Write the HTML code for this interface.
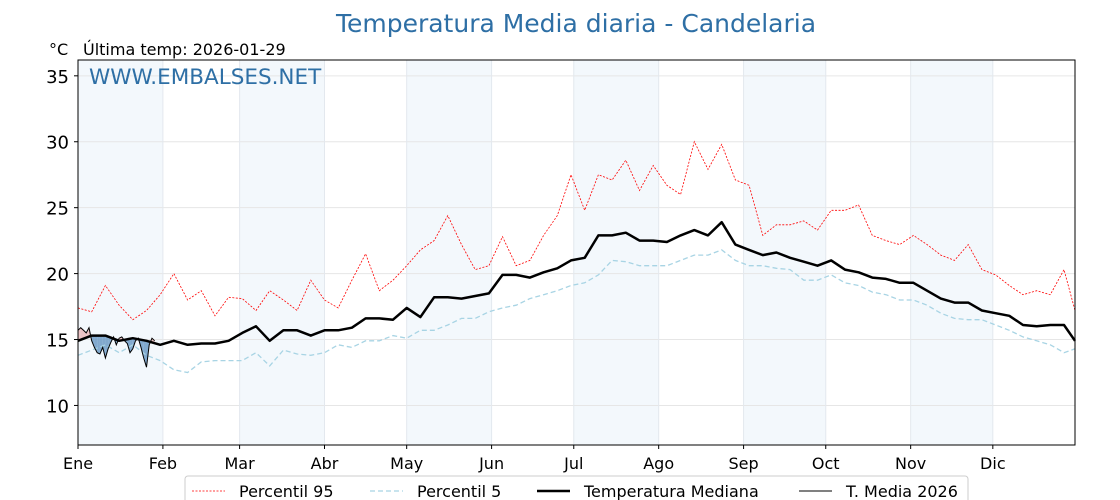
<!DOCTYPE html>
<html><head><meta charset="utf-8"><style>
body{margin:0;background:#fff;}
svg{display:block;font-family:"DejaVu Sans","Liberation Sans",sans-serif;}
</style></head><body>
<svg id="chart" width="1120" height="500" viewBox="0 0 1120 500" xmlns="http://www.w3.org/2000/svg">
<text x="576" y="32" text-anchor="middle" font-size="25" fill="#2e6fa5">Temperatura Media diaria - Candelaria</text>
<text x="49" y="55" font-size="16" fill="#000">°C</text>
<text x="83" y="55" font-size="16" fill="#000">Última temp: 2026-01-29</text>
<g id="bands"></g>
<g id="grid"></g>
<g id="series"></g>
<text x="89" y="84" font-size="21.5" fill="#2e6fa5">WWW.EMBALSES.NET</text>
<rect x="78" y="60" width="997" height="385" fill="none" stroke="#000" stroke-width="1"/>
<g id="axes"></g>
<g>
<rect x="185" y="476" width="783" height="30" rx="3" fill="#fff" stroke="#ccc"/>
<g><line x1="192" y1="491" x2="225" y2="491" stroke="red" stroke-width="0.8" stroke-dasharray="2,1.5"/><text x="239" y="497" font-size="16">Percentil 95</text></g>
<g><line x1="370" y1="491" x2="403" y2="491" stroke="#a8d4e4" stroke-width="1.3" stroke-dasharray="5,3"/><text x="417" y="497" font-size="16">Percentil 5</text></g>
<g><line x1="537" y1="491" x2="570" y2="491" stroke="#000" stroke-width="2.5"/><text x="584" y="497" font-size="16">Temperatura Mediana</text></g>
<g><line x1="799" y1="491" x2="832" y2="491" stroke="#000" stroke-width="1"/><text x="846" y="497" font-size="16">T. Media 2026</text></g>
</g>
</svg>
<script>
const sampleDays = [0,5,10,15,20,25,30,35,40,45,50,55,60,65,70,75,80,85,90,95,100,105,110,115,120,125,130,135,140,145,150,155,160,165,170,175,180,185,190,195,200,205,210,215,220,225,230,235,240,245,250,255,260,265,270,275,280,285,290,295,300,305,310,315,320,325,330,335,340,345,350,355,360,364];
const medianVals = [14.9,15.3,15.3,14.9,15.1,14.9,14.6,14.9,14.6,14.7,14.7,14.9,15.5,16.0,14.9,15.7,15.7,15.3,15.7,15.7,15.9,16.6,16.6,16.5,17.4,16.7,18.2,18.2,18.1,18.3,18.5,19.9,19.9,19.7,20.1,20.4,21.0,21.2,22.9,22.9,23.1,22.5,22.5,22.4,22.9,23.3,22.9,23.9,22.2,21.8,21.4,21.6,21.2,20.9,20.6,21.0,20.3,20.1,19.7,19.6,19.3,19.3,18.7,18.1,17.8,17.8,17.2,17.0,16.8,16.1,16.0,16.1,16.1,14.9];
const p95Vals = [17.4,17.1,19.1,17.6,16.5,17.2,18.4,20.0,18.0,18.7,16.8,18.2,18.1,17.2,18.7,18.0,17.2,19.5,18.0,17.4,19.5,21.5,18.7,19.5,20.6,21.8,22.5,24.4,22.2,20.3,20.6,22.8,20.6,21.0,22.9,24.4,27.5,24.8,27.5,27.1,28.6,26.3,28.2,26.7,26.0,30.0,27.9,29.8,27.1,26.7,22.9,23.7,23.7,24.0,23.3,24.8,24.8,25.2,22.9,22.5,22.2,22.9,22.2,21.4,21.0,22.2,20.3,19.9,19.1,18.4,18.7,18.4,20.3,17.2];
const p5Vals = [13.8,14.2,14.6,14.0,14.6,13.8,13.4,12.7,12.5,13.3,13.4,13.4,13.4,14.0,13.0,14.2,13.9,13.8,14.0,14.6,14.4,14.9,14.9,15.3,15.1,15.7,15.7,16.1,16.6,16.6,17.1,17.4,17.6,18.1,18.4,18.7,19.1,19.3,19.9,21.0,20.9,20.6,20.6,20.6,21.0,21.4,21.4,21.8,21.0,20.6,20.6,20.4,20.3,19.5,19.5,19.9,19.3,19.1,18.6,18.4,18.0,18.0,17.6,17.0,16.6,16.5,16.5,16.1,15.7,15.2,14.9,14.6,14.0,14.3];
const t2026Vals = [15.7,15.9,15.7,15.5,15.9,14.9,14.4,14.0,13.9,14.4,13.6,14.3,14.8,15.2,14.6,15.1,15.2,14.9,14.7,14.0,14.3,14.9,15.1,14.4,13.6,12.9,14.6,15.1,14.9];
const yTicks = [10,15,20,25,30,35];
const monthLabels = ["Ene","Feb","Mar","Abr","May","Jun","Jul","Ago","Sep","Oct","Nov","Dic"];
const monthStarts = [0,31,59,90,120,151,181,212,243,273,304,334];

const NS="http://www.w3.org/2000/svg";
const X0=78,X1=1075,Y0=60,Y1=445,DMAX=364,VMIN=7,VMAX=36.2;
const xs=d=>X0+(X1-X0)*d/DMAX;
const ys=v=>Y1-(Y1-Y0)*(v-VMIN)/(VMAX-VMIN);
function mk(tag,attrs,parent){const e=document.createElementNS(NS,tag);for(const k in attrs)e.setAttribute(k,attrs[k]);parent.appendChild(e);return e;}
const bands=document.getElementById('bands'),grid=document.getElementById('grid'),series=document.getElementById('series'),axes=document.getElementById('axes');
for(let i=0;i<12;i+=2){
  const end=i+1<12?monthStarts[i+1]:DMAX;
  const r=mk('rect',{x:xs(monthStarts[i]),y:Y0,width:xs(end)-xs(monthStarts[i]),height:Y1-Y0,fill:'#f3f8fc'},bands);
  
  
}
yTicks.forEach(v=>{
  const l=mk('line',{x1:X0,x2:X1,y1:ys(v),y2:ys(v),stroke:'#e6e6e6','stroke-width':1},grid);
  
  
  const t=mk('text',{x:X0-9,y:ys(v)+7,'text-anchor':'end','font-size':18},axes);
  t.textContent=v;
  
  
  mk('line',{x1:X0-4,x2:X0,y1:ys(v),y2:ys(v),stroke:'#000'},axes);
});
monthStarts.forEach((d,i)=>{
  const l=mk('line',{x1:xs(d),x2:xs(d),y1:Y0,y2:Y1,stroke:'#e3e8ee','stroke-width':1},grid);
  
  
  mk('line',{x1:xs(d),x2:xs(d),y1:Y1,y2:Y1+4,stroke:'#000'},axes);
  const t=mk('text',{x:xs(d),y:469,'text-anchor':'middle','font-size':16},axes);
  t.textContent=monthLabels[i];
  
  
});
function pts(days,vals){return vals.map((v,i)=>xs(days[i]).toFixed(1)+','+ys(v).toFixed(1)).join(' ');}
function medAt(d){for(let i=0;i<sampleDays.length-1;i++){if(d<=sampleDays[i+1]){const f=(d-sampleDays[i])/(sampleDays[i+1]-sampleDays[i]);return medianVals[i]+f*(medianVals[i+1]-medianVals[i]);}}return medianVals[medianVals.length-1];}
const d26=t2026Vals.map((v,i)=>i);
for(let i=0;i<t2026Vals.length-1;i++){
  const a=t2026Vals[i],b=t2026Vals[i+1],ma=medAt(i),mb=medAt(i+1);
  const below=(a+b)/2<(ma+mb)/2;
  const p=mk('polygon',{points:`${xs(i)},${ys(a)} ${xs(i+1)},${ys(b)} ${xs(i+1)},${ys(mb)} ${xs(i)},${ys(ma)}`,fill:below?'#5b8fbf':'#e8a0a0','fill-opacity':below?0.75:0.6},series);
  
  
}
const p95=mk('polyline',{points:pts(sampleDays,p95Vals),fill:'none',stroke:'red','stroke-width':0.8,'stroke-dasharray':'2,1.5'},series);


const p5=mk('polyline',{points:pts(sampleDays,p5Vals),fill:'none',stroke:'#a8d4e4','stroke-width':1.3,'stroke-dasharray':'5,3'},series);


const med=mk('polyline',{points:pts(sampleDays,medianVals),fill:'none',stroke:'#000','stroke-width':2.5,'stroke-linejoin':'round'},series);


const t26=mk('polyline',{points:pts(d26,t2026Vals),fill:'none',stroke:'#000','stroke-width':1},series);


</script>
</body></html>
